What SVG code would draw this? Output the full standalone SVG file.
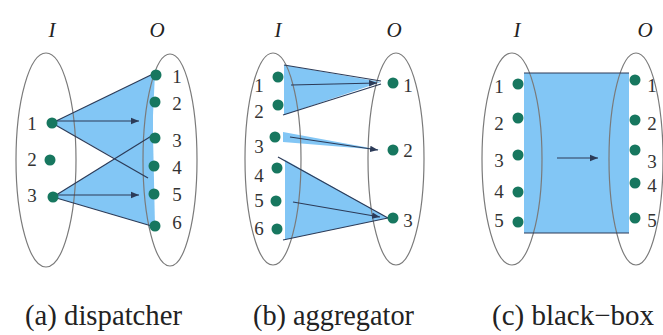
<svg xmlns="http://www.w3.org/2000/svg" width="663" height="335" viewBox="0 0 663 335">
<style>
.ell{fill:none;stroke:#7a7a7a;stroke-width:1.2}
.fill{fill:#82c6f5;stroke:none}
.ln{stroke:#2c3b58;stroke-width:1.2;fill:none}
.dot{fill:#17775f}
text{font-family:'Liberation Serif','Times New Roman',serif}
.num{font-size:19px;fill:#333;text-anchor:middle}
.hd{font-size:21px;font-style:italic;fill:#222;text-anchor:middle}
.cap{font-size:29px;fill:#222}
</style>
<defs>
<marker id="ah" viewBox="0 0 10 10" refX="10" refY="5" markerWidth="8" markerHeight="8" markerUnits="userSpaceOnUse" orient="auto">
<path d="M0,1 L10,5 L0,9 Z" fill="#2c3b58"/>
</marker>
</defs>

<!-- Panel (a) dispatcher -->
<g id="panel-a">
<polygon class="fill" points="52,123 155,73 150,178"/>
<polygon class="fill" points="53,197 153,135 155,227"/>
<path class="fill" d="M154,72 A27,107 0 0,0 149,228 L153,228 L153,72 Z"/>
<ellipse class="ell" cx="46" cy="160" rx="30" ry="107"/>
<ellipse class="ell" cx="170" cy="160" rx="27" ry="106"/>
<text class="hd" x="52" y="37">I</text>
<text class="hd" x="157" y="37">O</text>
</g>
<g id="connectors-a">
<line class="ln" x1="52" y1="123" x2="155" y2="73"/>
<line class="ln" x1="52" y1="123" x2="148" y2="178"/>
<line class="ln" x1="53" y1="197" x2="153" y2="135"/>
<line class="ln" x1="53" y1="197" x2="155" y2="227"/>
<line class="ln" x1="56" y1="121" x2="139" y2="121" marker-end="url(#ah)"/>
<line class="ln" x1="58" y1="195" x2="139" y2="195" marker-end="url(#ah)"/>
</g>
<g id="a-inputs">
<circle class="dot" cx="52" cy="123" r="5.5"/><text class="num" x="32" y="130">1</text>
<circle class="dot" cx="50" cy="160" r="5.5"/><text class="num" x="32" y="166">2</text>
<circle class="dot" cx="53" cy="197" r="5.5"/><text class="num" x="32" y="202">3</text>
</g>
<g id="a-outputs">
<circle class="dot" cx="156" cy="75" r="5.5"/><text class="num" x="177" y="83">1</text>
<circle class="dot" cx="155" cy="102" r="5.5"/><text class="num" x="177" y="110">2</text>
<circle class="dot" cx="155" cy="138" r="5.5"/><text class="num" x="177" y="147">3</text>
<circle class="dot" cx="154" cy="166" r="5.5"/><text class="num" x="177" y="174">4</text>
<circle class="dot" cx="154" cy="194" r="5.5"/><text class="num" x="177" y="201">5</text>
<circle class="dot" cx="155" cy="226" r="5.5"/><text class="num" x="177" y="229">6</text>
</g>

<!-- Panel (b) aggregator -->
<g id="panel-b">
<polygon class="fill" points="284,65 381,82 284,115"/>
<polygon class="fill" points="283,132 381,150 283,142"/>
<polygon class="fill" points="280,157 388,218 283,240 285,240 285,160"/>
<ellipse class="ell" cx="273" cy="159" rx="28" ry="106"/>
<ellipse class="ell" cx="396" cy="159" rx="28" ry="106"/>
<text class="hd" x="278" y="37">I</text>
<text class="hd" x="394" y="37">O</text>
</g>
<g id="connectors-b">
<line class="ln" x1="284" y1="65" x2="381" y2="81"/>
<line class="ln" x1="283" y1="115" x2="381" y2="84"/>
<line class="ln" x1="291" y1="85" x2="377" y2="83" marker-end="url(#ah)"/>
<line class="ln" x1="290" y1="137" x2="378" y2="150" marker-end="url(#ah)"/>
<line class="ln" x1="278" y1="157" x2="388" y2="218"/>
<line class="ln" x1="283" y1="240" x2="388" y2="218"/>
<line class="ln" x1="293" y1="202" x2="380" y2="217" marker-end="url(#ah)"/>
</g>
<g id="b-inputs">
<circle class="dot" cx="278" cy="77" r="5.5"/><text class="num" x="259" y="92">1</text>
<circle class="dot" cx="278" cy="105" r="5.5"/><text class="num" x="259" y="118">2</text>
<circle class="dot" cx="275" cy="137" r="5.5"/><text class="num" x="259" y="153">3</text>
<circle class="dot" cx="277" cy="168" r="5.5"/><text class="num" x="259" y="182">4</text>
<circle class="dot" cx="276" cy="201" r="5.5"/><text class="num" x="259" y="207">5</text>
<circle class="dot" cx="277" cy="229" r="5.5"/><text class="num" x="259" y="235">6</text>
</g>
<g id="b-outputs">
<circle class="dot" cx="393" cy="83" r="5.5"/><text class="num" x="408" y="92">1</text>
<circle class="dot" cx="393" cy="150" r="5.5"/><text class="num" x="408" y="157">2</text>
<circle class="dot" cx="393" cy="218" r="5.5"/><text class="num" x="408" y="227">3</text>
</g>

<!-- Panel (c) black-box -->
<g id="panel-c">
<rect class="fill" x="524" y="73" width="105" height="160"/>
<ellipse class="ell" cx="512" cy="159" rx="30" ry="106"/>
<ellipse class="ell" cx="636" cy="159" rx="27" ry="106"/>
<text class="hd" x="517" y="37">I</text>
<text class="hd" x="645" y="37">O</text>
</g>
<g id="connectors-c">
<line class="ln" x1="524" y1="73" x2="629" y2="73"/>
<line class="ln" x1="524" y1="233" x2="629" y2="233"/>
<line class="ln" x1="557" y1="158" x2="598" y2="158" marker-end="url(#ah)"/>
</g>
<g id="c-inputs">
<circle class="dot" cx="518" cy="84" r="5.5"/><text class="num" x="499" y="93">1</text>
<circle class="dot" cx="518" cy="118" r="5.5"/><text class="num" x="499" y="130">2</text>
<circle class="dot" cx="518" cy="155" r="5.5"/><text class="num" x="499" y="167">3</text>
<circle class="dot" cx="518" cy="192" r="5.5"/><text class="num" x="499" y="198">4</text>
<circle class="dot" cx="518" cy="222" r="5.5"/><text class="num" x="499" y="227">5</text>
</g>
<g id="c-outputs">
<circle class="dot" cx="635" cy="80" r="5.5"/><text class="num" x="652" y="92">1</text>
<circle class="dot" cx="635" cy="120" r="5.5"/><text class="num" x="652" y="130">2</text>
<circle class="dot" cx="635" cy="150" r="5.5"/><text class="num" x="652" y="168">3</text>
<circle class="dot" cx="635" cy="183" r="5.5"/><text class="num" x="652" y="192">4</text>
<circle class="dot" cx="635" cy="218" r="5.5"/><text class="num" x="652" y="227">5</text>
</g>

<g id="captions">
<text class="cap" x="25" y="325" textLength="157" lengthAdjust="spacingAndGlyphs">(a) dispatcher</text>
<text class="cap" x="253" y="325" textLength="161" lengthAdjust="spacingAndGlyphs">(b) aggregator</text>
<text class="cap" x="492" y="325" textLength="162" lengthAdjust="spacingAndGlyphs">(c) black−box</text>
</g>
</svg>
